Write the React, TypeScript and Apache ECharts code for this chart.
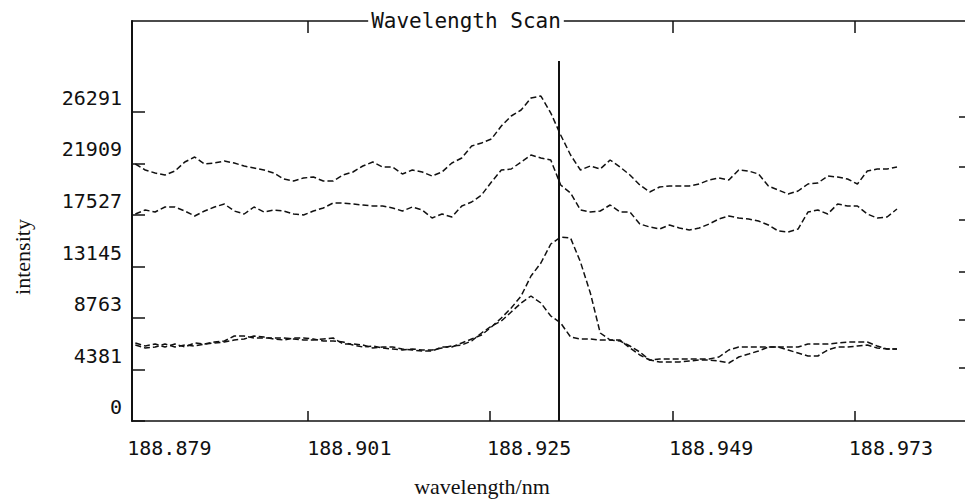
import React, { useEffect, useRef } from "react";
import * as echarts from "echarts";

// Scan wavelengths (nm)
const wavelengths = [
  188.8784, 188.8797, 188.881, 188.8823, 188.8836, 188.8849, 188.8862, 188.8875, 188.8888, 188.8901,
  188.8914, 188.8927, 188.894, 188.8953, 188.8966, 188.8979, 188.8992, 188.9005, 188.9018, 188.9031,
  188.9044, 188.9057, 188.907, 188.9083, 188.9096, 188.9109, 188.9122, 188.9135, 188.9148, 188.9161,
  188.9174, 188.9187, 188.92, 188.9213, 188.9226, 188.9239, 188.9252, 188.9265, 188.9278, 188.9291,
  188.9304, 188.9317, 188.933, 188.9343, 188.9356, 188.9369, 188.9382, 188.9395, 188.9408, 188.9421,
  188.9434, 188.9447, 188.946, 188.9473, 188.9486, 188.9499, 188.9512, 188.9525, 188.9538, 188.9551,
  188.9564, 188.9577, 188.959, 188.9603, 188.9616, 188.9629, 188.9642, 188.9655, 188.9668, 188.9681,
  188.9694, 188.9707, 188.972, 188.9733, 188.9746, 188.9759, 188.9772, 188.9785,
];

// Intensities of the four scans
const scanA = [
  21866, 21355, 21100, 20930, 21270, 22036, 22461, 21866, 21951, 22121,
  21951, 21695, 21525, 21355, 21100, 20589, 20419, 20674, 20760, 20419,
  20419, 20930, 21185, 21695, 22036, 21610, 21610, 21015, 21355, 21185,
  20845, 21185, 21951, 22376, 23397, 23652, 23993, 25099, 25949, 26460,
  27481, 27651, 26205, 24333, 22631, 21355, 21695, 21440, 22206, 21610,
  20930, 20079, 19483, 19909, 19994, 19994, 19994, 20164, 20504, 20674,
  20504, 21355, 21270, 21015, 19994, 19653, 19313, 19568, 20164, 20249,
  20845, 20760, 20589, 20164, 21270, 21440, 21440, 21610,
];
const scanB = [
  17612, 17952, 17782, 18207, 18207, 17867, 17441, 17867, 18207, 18462,
  17867, 17612, 18207, 17782, 17952, 17867, 17612, 17526, 17867, 18122,
  18547, 18547, 18462, 18377, 18292, 18292, 18122, 17867, 18207, 17952,
  17271, 17612, 17356, 18292, 18633, 19228, 20334, 21355, 21440, 22036,
  22631, 22376, 22206, 20079, 19398, 17952, 17782, 17867, 18377, 17782,
  17782, 16761, 16506, 16335, 16676, 16420, 16250, 16420, 16761, 17186,
  17441, 17271, 17186, 17016, 16676, 16165, 16080, 16335, 17782, 17952,
  17612, 18462, 18292, 18292, 17612, 17271, 17356, 18037,
];
const scanC = [
  6636, 6381, 6551, 6296, 6551, 6296, 6636, 6551, 6721, 6806,
  7232, 7232, 7062, 7062, 7062, 7062, 6977, 6891, 6891, 6977,
  7062, 6551, 6551, 6466, 6211, 6296, 6296, 6126, 6041, 5956,
  5956, 6296, 6296, 6636, 6977, 7317, 7998, 8763, 9614, 10635,
  12337, 13443, 15059, 15655, 15570, 13528, 10890, 7487, 6891, 6891,
  6211, 5615, 5190, 5275, 5275, 5275, 5275, 5275, 5275, 5445,
  6041, 6296, 6296, 6296, 6296, 6296, 6296, 6296, 6551, 6551,
  6551, 6636, 6721, 6721, 6721, 6381, 6126, 6126,
];
const scanD = [
  6466, 6211, 6296, 6551, 6296, 6466, 6381, 6551, 6636, 6721,
  6891, 6977, 7232, 7147, 6977, 6891, 7062, 7062, 6977, 6806,
  6806, 6721, 6466, 6296, 6381, 6211, 6126, 6041, 6126, 6041,
  6041, 6211, 6381, 6466, 6806, 7487, 8083, 8508, 9274, 10039,
  10635, 10039, 8933, 8338, 7147, 6977, 6977, 6891, 6891, 6806,
  6381, 5871, 5190, 5020, 5020, 5020, 5105, 5190, 5190, 5105,
  4935, 5445, 5700, 5956, 6296, 6296, 6041, 5785, 5530, 5530,
  6041, 6296, 6296, 6381, 6466, 6211, 6126, 6126,
];

// Axes
const xMin = 188.87796;
const xMax = 188.98744;
const xTickVals = [188.901, 188.925, 188.949, 188.973];
const xTickLabels = ["188.879", "188.901", "188.925", "188.949", "188.973"];
const xLabelAt = [188.88287, 188.90652, 188.93016, 188.95407, 188.97771];
const yMin = 0;
const yMax = 34033;
const yTickLabels = ["0", "4381", "8763", "13145", "17527", "21909", "26291"];
const rightTickVals = [4509, 8593, 12677, 17101, 21610, 25864];
const markerWave = 188.9341;
const markerTop = 30630;

const INK = "#111111";
const MONO = "'DejaVu Sans Mono', 'Liberation Mono', monospace";
const SERIF = "'Liberation Serif', 'DejaVu Serif', serif";

export default function App() {
  const ref = useRef<HTMLDivElement>(null);

  useEffect(() => {
    if (!ref.current) return;
    const chart = echarts.init(ref.current, undefined, { renderer: "svg" });

    const lineStyle = { color: INK, width: 1.5, type: [6, 3] as number[] };
    const mk = (vals: number[]) => wavelengths.map((w, i) => [w, vals[i]]);
    const yNums = yTickLabels.map((s) => Number(s));

    chart.setOption({
      animation: false,
      backgroundColor: "#ffffff",
      grid: { left: 132, right: 0, top: 21, bottom: 79 },
      xAxis: [
        {
          type: "value",
          min: xMin,
          max: xMax,
          position: "bottom",
          axisLine: { show: true, onZero: false, lineStyle: { color: INK, width: 1.5 } },
          axisTick: { show: true, inside: true, length: 10, customValues: xTickVals, lineStyle: { color: INK, width: 1.5 } },
          axisLabel: {
            show: true,
            customValues: xLabelAt,
            margin: 17,
            color: INK,
            fontFamily: MONO,
            fontSize: 20,
            lineHeight: 20,
            formatter: (v: number) => {
              let best = 0;
              xLabelAt.forEach((p, i) => {
                if (Math.abs(p - v) < Math.abs(xLabelAt[best] - v)) best = i;
              });
              return xTickLabels[best];
            },
          },
          splitLine: { show: false },
        },
        {
          type: "value",
          min: xMin,
          max: xMax,
          position: "top",
          axisLine: { show: true, onZero: false, lineStyle: { color: INK, width: 1.5 } },
          axisTick: { show: true, inside: true, length: 12, customValues: xTickVals, lineStyle: { color: INK, width: 1.5 } },
          axisLabel: { show: false },
          splitLine: { show: false },
        },
      ],
      yAxis: [
        {
          type: "value",
          min: yMin,
          max: yMax,
          position: "left",
          axisLine: { show: true, onZero: false, lineStyle: { color: INK, width: 2 } },
          axisTick: { show: true, inside: true, length: 13, customValues: yNums, lineStyle: { color: INK, width: 1.5 } },
          axisLabel: {
            show: true,
            customValues: yNums,
            margin: 10,
            color: INK,
            fontFamily: MONO,
            fontSize: 20,
            lineHeight: 28,
            verticalAlign: "bottom",
            formatter: (v: number) => String(v),
          },
          splitLine: { show: false },
        },
        {
          type: "value",
          min: yMin,
          max: yMax,
          position: "right",
          axisLine: { show: false },
          axisTick: { show: true, inside: true, length: 6, customValues: rightTickVals, lineStyle: { color: INK, width: 1.5 } },
          axisLabel: { show: false },
          splitLine: { show: false },
        },
      ],
      series: [
        {
          type: "line",
          data: mk(scanA),
          showSymbol: false,
          lineStyle,
          markLine: {
            silent: true,
            symbol: ["none", "none"],
            label: { show: false },
            lineStyle: { color: INK, width: 2, type: "solid" },
            data: [[{ coord: [markerWave, 0] }, { coord: [markerWave, markerTop] }]],
          },
        },
        { type: "line", data: mk(scanB), showSymbol: false, lineStyle },
        { type: "line", data: mk(scanC), showSymbol: false, lineStyle },
        { type: "line", data: mk(scanD), showSymbol: false, lineStyle },
      ],
      graphic: [
        {
          type: "text",
          x: 466,
          y: 21,
          z: 100,
          style: {
            text: "Wavelength Scan",
            fontFamily: MONO,
            fontSize: 21,
            fill: INK,
            align: "center",
            verticalAlign: "middle",
            backgroundColor: "#ffffff",
            padding: [2, 3],
          },
        },
        {
          type: "text",
          x: 482,
          y: 486,
          style: {
            text: "wavelength/nm",
            fontFamily: SERIF,
            fontSize: 22,
            fill: INK,
            align: "center",
            verticalAlign: "middle",
          },
        },
        {
          type: "text",
          x: 22,
          y: 257,
          rotation: Math.PI / 2,
          style: {
            text: "intensity",
            fontFamily: SERIF,
            fontSize: 22,
            fill: INK,
            align: "center",
            verticalAlign: "middle",
          },
        },
      ],
    });

    return () => chart.dispose();
  }, []);

  return (
    <div
      ref={ref}
      style={{ position: "fixed", left: 0, top: 0, width: 965, height: 500 }}
    />
  );
}
